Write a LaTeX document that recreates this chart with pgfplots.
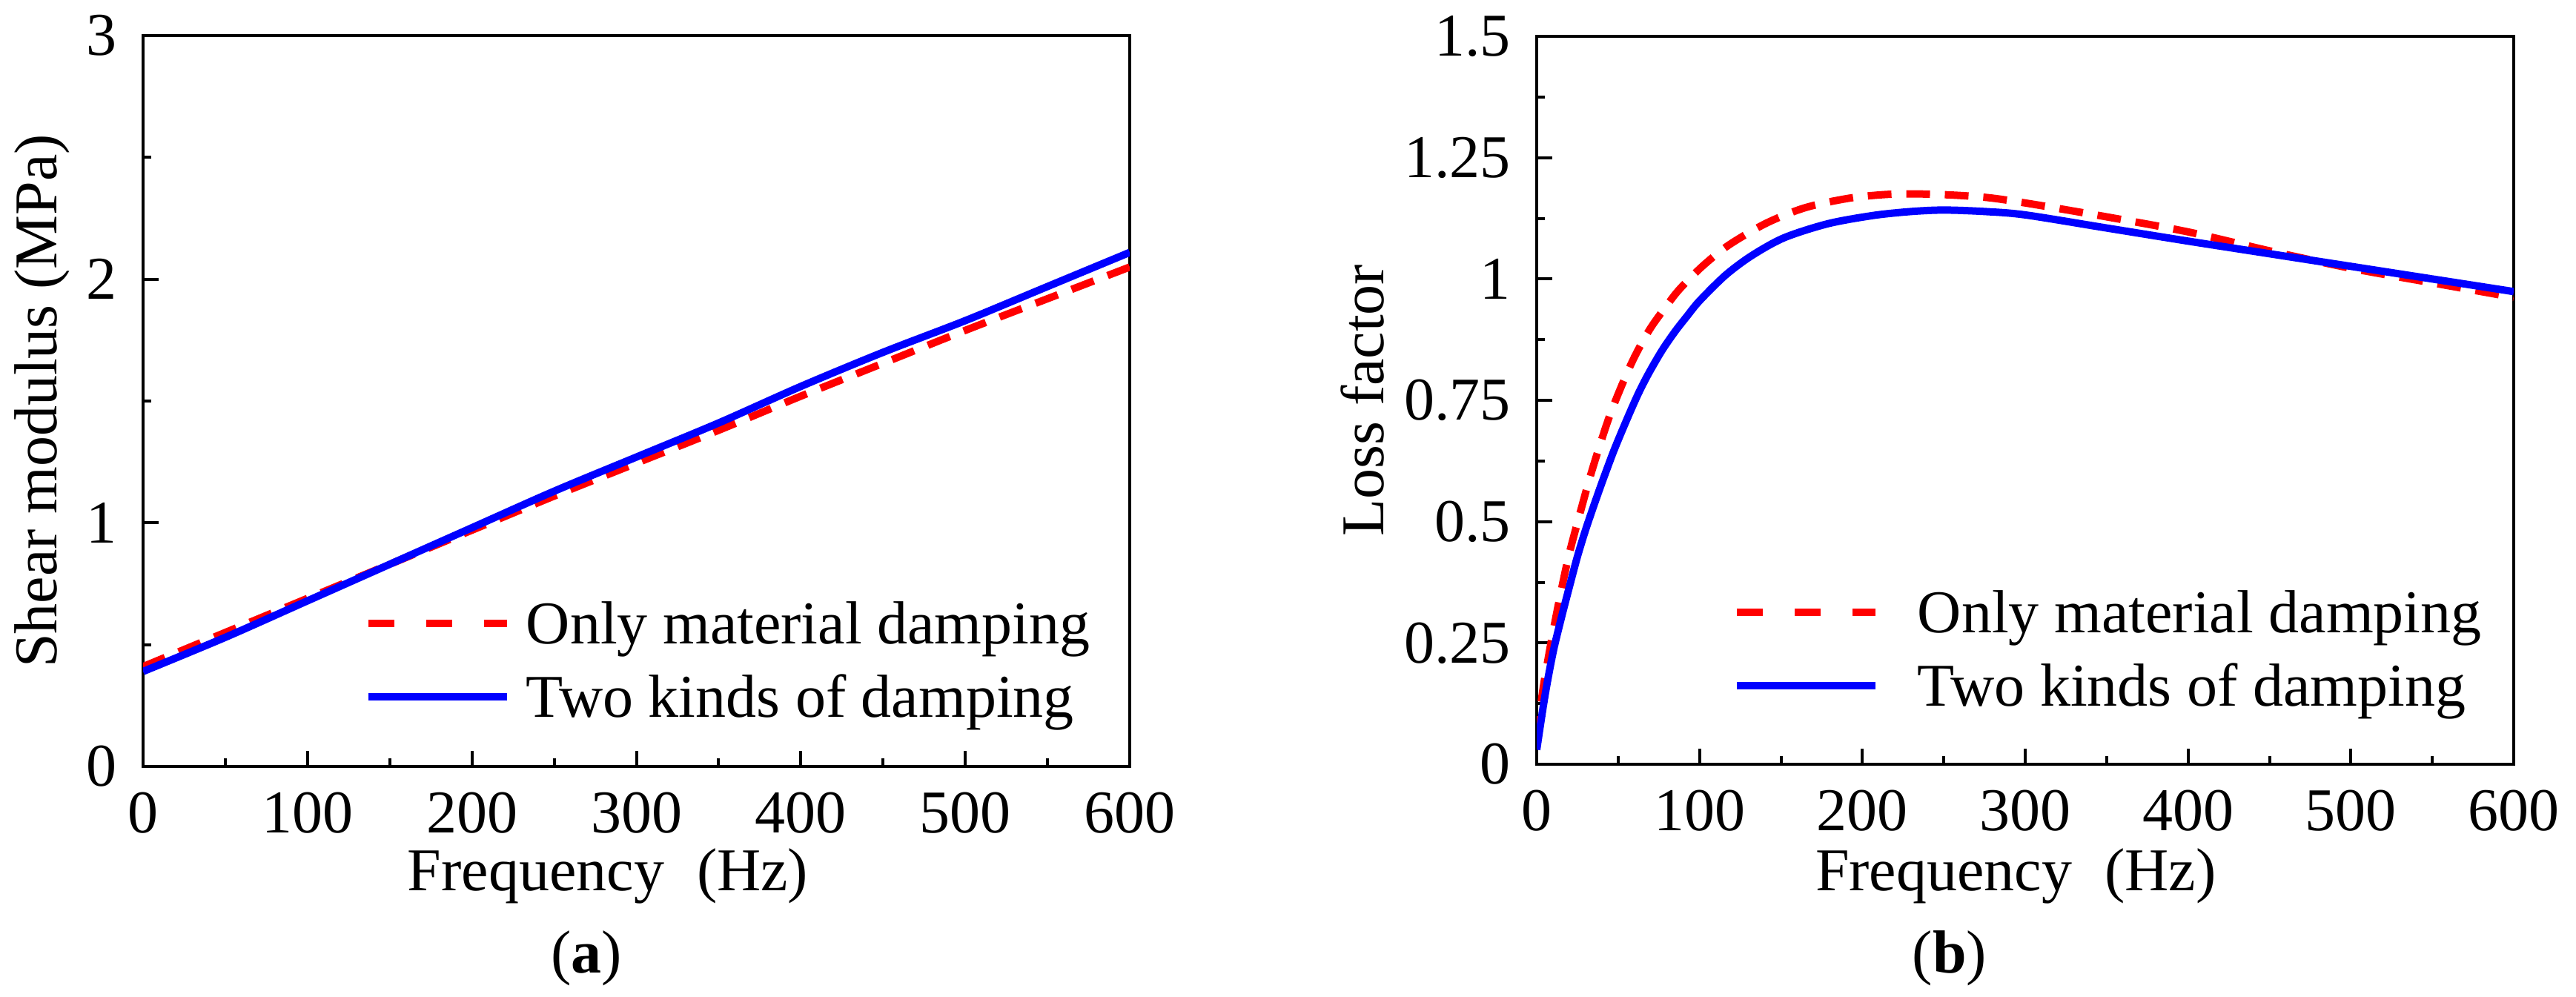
\documentclass[border=0pt]{standalone}
\usepackage{fontspec}
\usepackage{pgfplots}
\pgfplotsset{compat=1.18}

% shear modulus (MPa) against frequency (Hz)
\pgfplotstableread{
f    G
0    0.41
50   0.55
100  0.69
150  0.83
200  0.97
250  1.11
300  1.245
350  1.38
400  1.52
450  1.655
500  1.79
550  1.92
600  2.05
}\shearmat
\pgfplotstableread{
f    G
0    0.39
50   0.53
100  0.68
150  0.83
200  0.98
250  1.13
300  1.27
350  1.41
400  1.56
450  1.70
500  1.83
550  1.97
600  2.11
}\sheartwo

% loss factor against frequency (Hz)
\pgfplotstableread{
f    eta
0    0.05
4    0.158
11   0.29
19   0.42
26   0.51
34   0.606
45   0.72
58   0.825
69   0.894
80   0.946
88   0.98
102  1.027
118  1.07
141  1.115
165  1.147
193  1.167
220  1.175
248  1.174
276  1.168
303  1.155
350  1.128
400  1.097
450  1.058
500  1.022
550  0.992
600  0.962
}\lossmat
\pgfplotstableread{
f    eta
0    0.03
5    0.14
10   0.23
15   0.30
20   0.365
25   0.428
30   0.483
36   0.542
41   0.589
47   0.643
52   0.684
58   0.731
63   0.768
69   0.807
77   0.853
85   0.892
92   0.922
100  0.955
116  1.008
132  1.048
152  1.085
179  1.114
207  1.131
230  1.139
250  1.142
275  1.139
300  1.132
350  1.105
400  1.078
450  1.052
500  1.026
550  1.000
600  0.974
}\losstwo

% full-width brackets of the original, set as spaced parentheses
\newcommand\freqlabel{Frequency\hspace{4.4pt}(Hz)}
\newcommand\fa{\fontspec{Liberation Serif}\fontsize{8.2}{9.8}\selectfont}

\pgfplotsset{
  panel/.style={
    scale only axis,
    anchor=south west,
    xmin=0, xmax=600,
    xtick={0,100,...,600},
    minor x tick num=1, minor y tick num=1,
    tick align=inside,
    xtick pos=left, ytick pos=left,
    major tick length=2.1pt, minor tick length=1.1pt,
    axis line style={line width=0.4pt},
    every tick/.style={black, line width=0.4pt},
    /pgf/number format/assume math mode=true,
    legend style={draw=none, fill=none, inner sep=0pt, anchor=west,
      cells={anchor=west},
      nodes={inner sep=0pt, text height=6.4pt, text depth=1pt},
      row sep=2.5pt},
    legend image code/.code={\draw[##1] (0pt,0pt) -- (18.7pt,0pt);},
  },
  matline/.style={color=red, line width=1pt, dash pattern=on 3.2pt off 2pt,
    legend image post style={dash pattern=on 3.5pt off 4.3pt}},
  twoline/.style={color=blue, line width=1pt},
}

\begin{document}
\begin{tikzpicture}
\useasboundingbox (0,0) rectangle (347.5pt,134.4pt);

\begin{axis}[panel, font=\fa,
  at={(19.3pt,31.0pt)}, width=133.1pt, height=98.6pt,
  ymin=0, ymax=3, ytick={0,1,2,3},
  xlabel={\freqlabel},
  ylabel={Shear modulus (MPa)},
  xlabel style={at={(axis description cs:0.2667,-0.1694)}, anchor=base west,
    inner sep=0pt},
  ylabel style={at={(axis description cs:-0.0879,0.5)}, anchor=base},
  legend style={at={(0.223,0.1455)},
    /tikz/every odd column/.append style={column sep=2.1pt}},
]
\addplot[matline, smooth] table[x=f, y=G] {\shearmat};
\addlegendentry{Only material damping}
\addplot[twoline, smooth] table[x=f, y=G] {\sheartwo};
\addlegendentry{Two kinds of damping}
\end{axis}

\begin{axis}[panel, font=\fa,
  at={(207.3pt,31.3pt)}, width=131.8pt, height=98.2pt,
  ymin=0, ymax=1.5, ytick={0,0.25,0.5,0.75,1,1.25,1.5},
  yticklabels={0,0.25,0.5,0.75,1,1.25,1.5},
  xlabel={\freqlabel},
  ylabel={Loss factor},
  xlabel style={at={(axis description cs:0.2838,-0.1731)}, anchor=base west,
    inner sep=0pt},
  ylabel style={at={(axis description cs:-0.157,0.5)}, anchor=base},
  legend style={at={(0.1995,0.158)},
    /tikz/every odd column/.append style={column sep=5.2pt}},
]
\addplot[matline, smooth] table[x=f, y=eta] {\lossmat};
\addlegendentry{Only material damping}
\addplot[twoline, smooth] table[x=f, y=eta] {\losstwo};
\addlegendentry{Two kinds of damping}
\end{axis}

\node[anchor=base, font=\fa] at (79.1pt,3.2pt) {(\textbf{a})};
\node[anchor=base, font=\fa] at (263.0pt,3.2pt) {(\textbf{b})};
\end{tikzpicture}
\end{document}
